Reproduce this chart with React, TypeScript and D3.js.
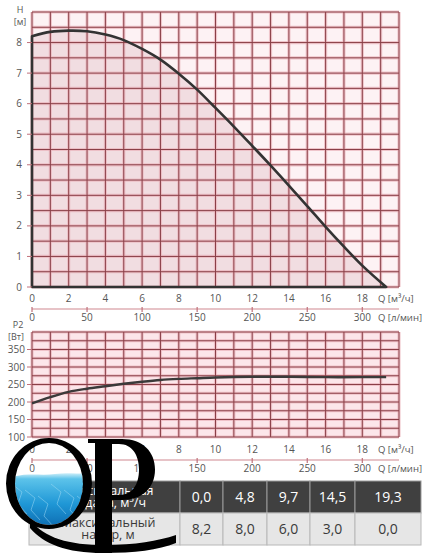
import { useEffect, useRef } from "react";
import * as d3 from "d3";

// Q-H curve (head, m)
const flowH = [0, 1, 2, 3, 4, 5, 6, 7, 8, 9, 10, 11, 12, 13, 14, 15, 16, 17, 18, 19.3];
const headH = [8.21, 8.35, 8.39, 8.37, 8.26, 8.08, 7.79, 7.44, 6.98, 6.46, 5.86, 5.25, 4.62, 3.98, 3.32, 2.65, 1.97, 1.32, 0.7, 0];

// Q-P2 curve (power, W)
const flowP = [0, 1, 2, 3, 4, 5, 6, 7, 8, 9, 10, 12, 14, 16, 18, 19.3];
const powerP = [196, 214, 229, 238, 245, 252, 258, 263, 266, 268, 270, 272, 272, 271, 271, 271];

const qTicks = [0, 2, 4, 6, 8, 10, 12, 14, 16, 18];
const lpmTicks = [0, 50, 100, 150, 200, 250, 300];
const headTicks = [0, 1, 2, 3, 4, 5, 6, 7, 8];
const powerTicks = [100, 150, 200, 250, 300, 350];

const tableFlow = ["0,0", "4,8", "9,7", "14,5", "19,3"];
const tableHead = ["8,2", "8,0", "6,0", "3,0", "0,0"];
const rowLabels = [
    ["Максимальная", "подача, м³/ч"],
    ["Максимальный", "напор, м"],
];

const FONT = "'Open Sans', 'Noto Sans', sans-serif";
const GRID = "#8a3f47";
const HALO = "#ebb6be";

export default function App() {
    const svgRef = useRef<SVGSVGElement>(null);

    useEffect(() => {
        if (!svgRef.current) return;
        const svg = d3.select(svgRef.current);
        svg.selectAll("*").remove();

        const x = d3.scaleLinear().domain([0, 20]).range([32, 399]);
        const xl = d3.scaleLinear().domain([0, 300]).range([x(0), x(18)]);
        const yH = d3.scaleLinear().domain([0, 9]).range([287, 12]);
        const yP = d3.scaleLinear().domain([100, 400]).range([437, 332]);

        const defs = svg.append("defs");
        const grad = defs
            .append("linearGradient")
            .attr("id", "water")
            .attr("x1", 0).attr("y1", 0).attr("x2", 0).attr("y2", 1);
        grad.append("stop").attr("offset", "0%").attr("stop-color", "#e4f7fc");
        grad.append("stop").attr("offset", "12%").attr("stop-color", "#5cc3ea");
        grad.append("stop").attr("offset", "55%").attr("stop-color", "#1f97d6");
        grad.append("stop").attr("offset", "100%").attr("stop-color", "#0b67ad");
        defs.append("clipPath").attr("id", "qhole")
            .append("ellipse")
            .attr("cx", 49).attr("cy", 484).attr("rx", 34).attr("ry", 41);

        const drawGrid = (
            y: d3.ScaleLinear<number, number>,
            step: number,
        ) => {
            const g = svg.append("g");
            const [y0, y1] = y.domain();
            const hv = d3.range(y0, y1 + step / 2, step);
            const vv = d3.range(0, 21, 1);
            [
                { c: HALO, w: 3.2, o: 0.75 },
                { c: GRID, w: 1, o: 1 },
            ].forEach((s) => {
                g.selectAll(null)
                    .data(hv)
                    .enter()
                    .append("line")
                    .attr("x1", x(0)).attr("x2", x(20))
                    .attr("y1", (d) => y(d)).attr("y2", (d) => y(d))
                    .attr("stroke", s.c).attr("stroke-width", s.w).attr("opacity", s.o);
                g.selectAll(null)
                    .data(vv)
                    .enter()
                    .append("line")
                    .attr("x1", (d) => x(d)).attr("x2", (d) => x(d))
                    .attr("y1", y(y0)).attr("y2", y(y1))
                    .attr("stroke", s.c).attr("stroke-width", s.w).attr("opacity", s.o);
            });
        };

        const drawXAxes = (base: number) => {
            const g = svg.append("g").attr("font-family", FONT).attr("font-size", 10).attr("fill", "#555");
            g.selectAll(null).data(qTicks).enter().append("text")
                .attr("x", (d) => x(d)).attr("y", base)
                .attr("text-anchor", "middle").text((d) => d);
            g.append("text").attr("x", 378).attr("y", base).attr("font-size", 9.5).text("Q [м³/ч]");
            const ly = base + 7;
            g.append("line").attr("x1", x(0)).attr("x2", x(20)).attr("y1", ly).attr("y2", ly)
                .attr("stroke", "#d08890").attr("stroke-width", 1.2);
            g.selectAll(null).data(lpmTicks).enter().append("line")
                .attr("x1", (d) => xl(d)).attr("x2", (d) => xl(d))
                .attr("y1", ly - 2).attr("y2", ly + 3)
                .attr("stroke", "#c0707a").attr("stroke-width", 1.2);
            g.selectAll(null).data(lpmTicks).enter().append("text")
                .attr("x", (d) => xl(d)).attr("y", ly + 12)
                .attr("text-anchor", "middle").text((d) => d);
            g.append("text").attr("x", 378).attr("y", ly + 12).attr("font-size", 9.5).text("Q [л/мин]");
        };

        // ---- Q-H chart
        svg.append("rect")
            .attr("x", x(0)).attr("y", yH(9))
            .attr("width", x(20) - x(0)).attr("height", yH(0) - yH(9))
            .attr("fill", "#fdf2f4");
        const hPts = flowH.map((q, i) => [q, headH[i]] as [number, number]);
        const area = d3.area<[number, number]>()
            .x((d) => x(d[0])).y0(yH(0)).y1((d) => yH(d[1]))
            .curve(d3.curveCatmullRom);
        svg.append("path").attr("d", area(hPts)).attr("fill", "#f1dde1");
        drawGrid(yH, 0.5);
        svg.append("path").attr("d", area(hPts))
            .attr("fill", "none").attr("stroke", "#333").attr("stroke-width", 2.6)
            .attr("stroke-linejoin", "round");

        const yAxH = svg.append("g").attr("font-family", FONT).attr("font-size", 10).attr("fill", "#555");
        yAxH.selectAll(null).data(headTicks).enter().append("line")
            .attr("x1", 27).attr("x2", x(0)).attr("y1", (d) => yH(d)).attr("y2", (d) => yH(d))
            .attr("stroke", "#c0707a");
        yAxH.selectAll(null).data(headTicks).enter().append("text")
            .attr("x", 22).attr("y", (d) => yH(d) + 3.5).attr("text-anchor", "end").text((d) => d);
        yAxH.append("text").attr("x", 20).attr("y", 13).attr("font-size", 9).attr("text-anchor", "middle").text("H");
        yAxH.append("text").attr("x", 20).attr("y", 25).attr("font-size", 9).attr("text-anchor", "middle").text("[м]");
        drawXAxes(302);

        // ---- Q-P2 chart
        svg.append("rect")
            .attr("x", x(0)).attr("y", yP(400))
            .attr("width", x(20) - x(0)).attr("height", yP(100) - yP(400))
            .attr("fill", "#fce6ea");
        drawGrid(yP, 25);
        const pPts = flowP.map((q, i) => [q, powerP[i]] as [number, number]);
        const line = d3.line<[number, number]>()
            .x((d) => x(d[0])).y((d) => yP(d[1]))
            .curve(d3.curveCatmullRom);
        svg.append("path").attr("d", line(pPts))
            .attr("fill", "none").attr("stroke", "#3a3a3a").attr("stroke-width", 2.4);

        const yAxP = svg.append("g").attr("font-family", FONT).attr("font-size", 10).attr("fill", "#555");
        yAxP.selectAll(null).data(powerTicks).enter().append("line")
            .attr("x1", 27).attr("x2", x(0)).attr("y1", (d) => yP(d)).attr("y2", (d) => yP(d))
            .attr("stroke", "#c0707a");
        yAxP.selectAll(null).data(powerTicks).enter().append("text")
            .attr("x", 25).attr("y", (d) => yP(d) + 3.5).attr("text-anchor", "end").text((d) => d);
        yAxP.append("text").attr("x", 18).attr("y", 327.5).attr("font-size", 9).attr("text-anchor", "middle").text("P2");
        yAxP.append("text").attr("x", 16).attr("y", 340).attr("font-size", 9).attr("text-anchor", "middle").text("[Вт]");
        drawXAxes(453);

        // ---- table
        const colX = [29, 180, 223, 267, 310, 355, 421];
        const rowY = [481, 513, 545];
        const rows = [tableFlow, tableHead];
        const tbl = svg.append("g").attr("font-family", FONT);
        rows.forEach((vals, r) => {
            const dark = r === 0;
            const fill = dark ? "#404040" : "#e6e6e6";
            const txt = dark ? "#fff" : "#3a3a3a";
            const cells = ["", ...vals];
            cells.forEach((v, c) => {
                tbl.append("rect")
                    .attr("x", colX[c]).attr("y", rowY[r])
                    .attr("width", colX[c + 1] - colX[c]).attr("height", rowY[r + 1] - rowY[r])
                    .attr("fill", fill).attr("stroke", dark ? "#9a9a9a" : "#b8b8b8").attr("stroke-width", 1);
                if (c > 0) {
                    tbl.append("text")
                        .attr("x", (colX[c] + colX[c + 1]) / 2).attr("y", (rowY[r] + rowY[r + 1]) / 2 + 5)
                        .attr("text-anchor", "middle").attr("font-size", 14).attr("fill", txt).text(v);
                }
            });
            rowLabels[r].forEach((t, k) => {
                tbl.append("text")
                    .attr("x", 108).attr("y", rowY[r] + 14 + k * 12)
                    .attr("text-anchor", "middle").attr("font-size", 12.5).attr("fill", txt).text(t);
            });
        });

        // ---- QP watermark
        const logo = svg.append("g");
        logo.append("path")
            .attr("clip-path", "url(#qhole)")
            .attr("d", "M10 478 C25 472 40 476 55 474 C68 472 78 475 90 472 L90 530 L10 530 Z")
            .attr("fill", "url(#water)");
        const caustic = d3.range(0, 6);
        logo.append("g").attr("clip-path", "url(#qhole)")
            .selectAll(null).data(caustic).enter().append("path")
            .attr("d", (d) => `M${12 + d * 13} ${484 + (d % 3) * 6} l10 8 l-4 12 l9 10`)
            .attr("fill", "none").attr("stroke", "#9fdcf5").attr("stroke-width", 1).attr("opacity", 0.5);
        logo.append("path")
            .attr("fill-rule", "evenodd").attr("fill", "#000")
            .attr("d",
                "M6 483.5 A43 45.5 0 1 0 92 483.5 A43 45.5 0 1 0 6 483.5 Z " +
                "M15 484 A34 41 0 1 0 83 484 A34 41 0 1 0 15 484 Z");
        logo.append("path").attr("fill", "#000")
            .attr("d", "M30 520 C45 538 68 545 105 545 C135 545 158 541 176 535 L176 543 C158 550 135 553 103 553 C66 553 44 544 30 528 Z");
        logo.append("path").attr("fill", "#000").attr("fill-rule", "evenodd")
            .attr("d",
                "M88 439 L122 439 C143 439 155 452 155 469.5 C155 488 142 500 122 500 L112 500 L112 553 L95 553 L95 443 L88 443 Z " +
                "M112 444 L119 444 C132 444 139 455 139 469.5 C139 485 132 495 119 495 L112 495 Z");
    }, []);

    return (
        <svg
            ref={svgRef}
            width={422}
            height={553}
            style={{ position: "absolute", left: 0, top: 0, background: "#fff" }}
        />
    );
}
